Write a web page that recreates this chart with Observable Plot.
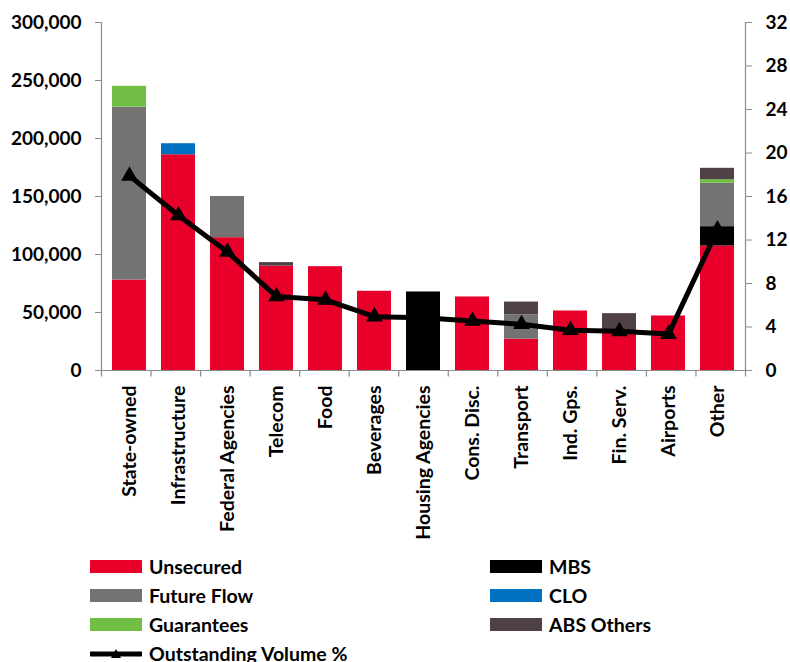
<!DOCTYPE html>
<html>
<head>
<meta charset="utf-8">
<script src="https://cdn.jsdelivr.net/npm/d3@7"></script>
<script src="https://cdn.jsdelivr.net/npm/@observablehq/plot@0.6"></script>
<style>
  body { margin: 0; background: #fff; font-family: Lato, "Open Sans", sans-serif; }
  #chart { width: 790px; }
  .legend {
    display: grid;
    grid-template-columns: 400px 300px;
    grid-auto-rows: 29px;
    padding-left: 90px;
    margin-top: 4px;
    font-weight: 700;
    font-size: 19.5px;
    color: #000;
  }
  .item { display: flex; align-items: center; white-space: nowrap; }
  .sw { width: 52px; height: 13px; margin-right: 7px; flex: none; }
  .sw-line { width: 52px; height: 16px; margin-right: 7px; flex: none; }
</style>
</head>
<body>
<div id="chart"></div>
<script>
// Sectors along the x axis
const categories = ["State-owned", "Infrastructure", "Federal Agencies", "Telecom", "Food",
  "Beverages", "Housing Agencies", "Cons. Disc.", "Transport", "Ind. Gps.", "Fin. Serv.",
  "Airports", "Other"];

// Outstanding amounts per structure type (left axis)
const unsecured  = [78000, 186000, 114500, 90000, 89500, 68300, 0, 63400, 27000, 51300, 33000, 47000, 107300];
const mbs        = [0, 0, 0, 0, 0, 0, 67700, 0, 0, 0, 0, 0, 16700];
const futureFlow = [149000, 0, 35500, 0, 0, 0, 0, 0, 21000, 0, 0, 0, 37400];
const clo        = [0, 9500, 0, 0, 0, 0, 0, 0, 0, 0, 0, 0, 0];
const guarantees = [18000, 0, 0, 0, 0, 0, 0, 0, 0, 0, 0, 0, 3100];
const absOthers  = [0, 0, 0, 3000, 0, 0, 0, 0, 11000, 0, 16000, 0, 9800];

// Share of outstanding volume, % (right axis)
const outstandingPct = [17.9, 14.25, 10.9, 6.8, 6.5, 4.95, 4.85, 4.55, 4.25, 3.7, 3.6, 3.35, 12.95];

// Axis ticks
const leftTicks  = [0, 50000, 100000, 150000, 200000, 250000, 300000];
const rightTicks = [0, 4, 8, 12, 16, 20, 24, 28, 32];

const seriesNames  = ["Unsecured", "MBS", "Future Flow", "CLO", "Guarantees", "ABS Others"];
const seriesValues = [unsecured, mbs, futureFlow, clo, guarantees, absOthers];
const seriesColors = ["#e8002b", "#000000", "#737373", "#0070c0", "#70bf44", "#4f4146"];
const lineName = "Outstanding Volume %";

const yMax = 300000, pctMax = 32, k = yMax / pctMax;

const barRows = seriesNames.flatMap((s, j) =>
  categories.map((c, i) => ({category: c, series: s, value: seriesValues[j][i]}))
).filter(d => d.value > 0);
const lineRows = categories.map((c, i) => ({category: c, pct: outstandingPct[i]}));

// Excel-style axis lines with category ticks between bars
function axisFrame(index, scales, values, dims) {
  const {width, height, marginLeft, marginRight, marginTop, marginBottom} = dims;
  const x0 = marginLeft + 0.5, x1 = width - marginRight + 0.5;
  const yb = height - marginBottom + 0.5, yt = marginTop;
  const step = (x1 - x0) / categories.length;
  const p = d3.path();
  p.moveTo(x0, yt); p.lineTo(x0, yb); p.lineTo(x1, yb); p.lineTo(x1, yt);
  for (let i = 0; i <= categories.length; i++) {
    const x = x0 + i * step;
    p.moveTo(x, yb); p.lineTo(x, yb + 6);
  }
  const el = document.createElementNS("http://www.w3.org/2000/svg", "path");
  el.setAttribute("d", p.toString());
  el.setAttribute("fill", "none");
  el.setAttribute("stroke", "#8c8c8c");
  el.setAttribute("stroke-width", "1.2");
  return el;
}

const chart = Plot.plot({
  width: 790,
  height: 548,
  marginLeft: 101,
  marginRight: 45,
  marginTop: 22,
  marginBottom: 178,
  style: {fontFamily: "Lato, 'Open Sans', sans-serif", fontWeight: 700, fontSize: "19px", color: "#000", background: "#fff"},
  x: {domain: categories, paddingInner: 0.314, paddingOuter: 0.157},
  y: {domain: [0, yMax]},
  color: {domain: seriesNames, range: seriesColors},
  marks: [
    Plot.barY(barRows, {x: "category", y: "value", fill: "series", order: seriesNames}),
    axisFrame,
    Plot.line(lineRows, {x: "category", y: d => d.pct * k, stroke: "#000", strokeWidth: 5, strokeLinejoin: "round"}),
    Plot.dot(lineRows, {x: "category", y: d => d.pct * k, symbol: "triangle", r: 6.2, fill: "#000"}),
    Plot.axisY({anchor: "left", label: null, ticks: leftTicks, tickFormat: d3.format(","), tickSize: 6, tickPadding: 14, stroke: "#8c8c8c", fontSize: 19}),
    Plot.axisY({anchor: "right", label: null, ticks: rightTicks.map(t => t * k), tickFormat: d => String(Math.round(d / k)), tickSize: 6, tickPadding: 14, stroke: "#8c8c8c", fontSize: 19}),
    Plot.axisX({anchor: "bottom", label: null, tickSize: 0, tickPadding: 15, tickRotate: -90, fontSize: 19.5})
  ]
});

const root = document.getElementById("chart");
root.appendChild(chart);

// Legend below the chart
const legend = document.createElement("div");
legend.className = "legend";
seriesNames.forEach((name, j) => {
  const item = document.createElement("div");
  item.className = "item";
  const sw = document.createElement("span");
  sw.className = "sw";
  sw.style.background = seriesColors[j];
  item.appendChild(sw);
  item.appendChild(document.createTextNode(name));
  legend.appendChild(item);
});
const lineItem = document.createElement("div");
lineItem.className = "item";
lineItem.innerHTML =
  '<svg class="sw-line" viewBox="0 0 52 16"><line x1="1" y1="8" x2="51" y2="8" stroke="#000" stroke-width="5" stroke-linecap="round"/>' +
  '<path d="M26 3 L31 12 L21 12 Z" fill="#000"/></svg>';
lineItem.appendChild(document.createTextNode(lineName));
legend.appendChild(lineItem);
root.appendChild(legend);
</script>
</body>
</html>
